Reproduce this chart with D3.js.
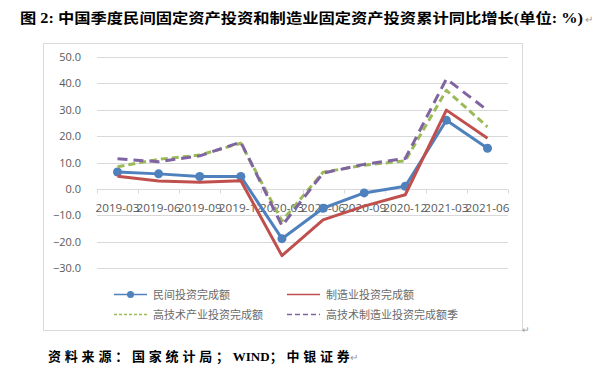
<!DOCTYPE html>
<html>
<head>
<meta charset="utf-8">
<script src="https://cdn.jsdelivr.net/npm/d3@7"></script>
<style>
  body { margin: 0; background: #fff; }
  svg { display: block; }
</style>
</head>
<body>
<div id="chart"></div>
<script>
const categories = ["2019-03", "2019-06", "2019-09", "2019-12", "2020-03", "2020-06", "2020-09", "2020-12", "2021-03", "2021-06"];
const privateInv = [6.4, 5.7, 4.7, 4.7, -18.8, -7.3, -1.5, 1.0, 26.0, 15.4];
const manufInv = [4.8, 3.0, 2.5, 3.1, -25.2, -11.7, -6.5, -2.2, 29.8, 19.2];
const hiTechInv = [8.4, 11.2, 12.8, 17.3, -12.1, 6.3, 9.0, 10.6, 37.3, 23.5];
const hiTechManufInv = [11.4, 10.3, 12.5, 17.7, -13.9, 6.0, 9.3, 11.5, 41.6, 29.7];
const yTicks = [50, 40, 30, 20, 10, 0, -10, -20, -30];
const seriesNames = ["民间投资完成额", "制造业投资完成额", "高技术产业投资完成额", "高技术制造业投资完成额季"];

const W = 597, H = 382;
const svg = d3.select("#chart").append("svg").attr("width", W).attr("height", H);

const serif = "'Liberation Serif', 'Noto Sans CJK SC', serif";
const sans = "'Noto Sans CJK SC', 'Open Sans', sans-serif";

// title
svg.append("text")
  .attr("x", 20).attr("y", 23)
  .attr("font-family", serif).attr("font-weight", "bold").attr("font-size", 14)
  .attr("textLength", 563).attr("lengthAdjust", "spacingAndGlyphs")
  .attr("fill", "#000")
  .text("图 2: 中国季度民间固定资产投资和制造业固定资产投资累计同比增长(单位: %)");
svg.append("text").attr("x", 585).attr("y", 23).attr("font-size", 10).attr("fill", "#999").text("↵");

// chart frame
svg.append("rect").attr("x", 43.5).attr("y", 43.5).attr("width", 479).attr("height", 287)
  .attr("fill", "none").attr("stroke", "#d9d9d9");

const x = d3.scalePoint().domain(categories).range([117.5, 487.5]);
const step = x.step();
const y = d3.scaleLinear().domain([-30, 50]).range([268.3, 56.7]);

// grid
svg.append("g").selectAll("line").data(yTicks).join("line")
  .attr("x1", 97).attr("x2", 508)
  .attr("y1", d => Math.round(y(d)) + 0.5).attr("y2", d => Math.round(y(d)) + 0.5)
  .attr("stroke", "#d9d9d9");

// y labels
svg.append("g").selectAll("text").data(yTicks).join("text")
  .attr("x", 81).attr("y", d => y(d) + 4)
  .attr("text-anchor", "end")
  .attr("font-family", "'Open Sans', sans-serif").attr("font-size", 11).attr("fill", "#595959")
  .text(d => d3.format(".1f")(d));

// x axis at zero
const y0 = Math.round(y(0)) + 0.5;
svg.append("line").attr("x1", 97).attr("x2", 508).attr("y1", y0).attr("y2", y0).attr("stroke", "#d9d9d9");
const bounds = d3.range(categories.length + 1).map(i => x(categories[0]) - step / 2 + i * step);
svg.append("g").selectAll("line").data(bounds).join("line")
  .attr("x1", d => Math.round(d) + 0.5).attr("x2", d => Math.round(d) + 0.5)
  .attr("y1", y0).attr("y2", y0 + 4)
  .attr("stroke", "#d9d9d9");
svg.append("g").selectAll("text").data(categories).join("text")
  .attr("x", d => x(d)).attr("y", 212)
  .attr("text-anchor", "middle")
  .attr("font-family", "'Open Sans', sans-serif").attr("font-size", 11).attr("fill", "#595959")
  .attr("textLength", 44).attr("lengthAdjust", "spacingAndGlyphs")
  .text(d => d);

const line = d3.line().x((d, i) => x(categories[i])).y(d => y(d));

const series = [
  { values: privateInv, color: "#4F81BD", dash: null, marker: true },
  { values: manufInv, color: "#C0504D", dash: null, marker: false },
  { values: hiTechInv, color: "#9BBB59", dash: "7,4", marker: false },
  { values: hiTechManufInv, color: "#8064A2", dash: "10,6", marker: false }
];

series.forEach(s => {
  svg.append("path").datum(s.values)
    .attr("d", line)
    .attr("fill", "none")
    .attr("stroke", s.color)
    .attr("stroke-width", 3)
    .attr("stroke-dasharray", s.dash)
    .attr("stroke-linejoin", "round");
  if (s.marker) {
    svg.append("g").selectAll("circle").data(s.values).join("circle")
      .attr("cx", (d, i) => x(categories[i])).attr("cy", d => y(d))
      .attr("r", 4.5).attr("fill", s.color);
  }
});

// legend
const legendPos = [[114, 294], [287, 294], [114, 314], [287, 314]];
const legendDash = [null, null, "3,2", "5,3"];
seriesNames.forEach((name, i) => {
  const [lx, ly] = legendPos[i];
  const g = svg.append("g").attr("transform", `translate(${lx},${ly})`);
  g.append("line").attr("x1", 0).attr("x2", 33).attr("y1", 0.5).attr("y2", 0.5)
    .attr("stroke", series[i].color).attr("stroke-width", 1.3)
    .attr("stroke-dasharray", legendDash[i]);
  if (series[i].marker) g.append("circle").attr("cx", 16.5).attr("cy", 0.5).attr("r", 3.5).attr("fill", series[i].color);
  g.append("text").attr("x", 39).attr("y", 4.5)
    .attr("font-family", sans).attr("font-size", 11).attr("fill", "#6b6b6b")
    .text(name);
});
svg.append("text").attr("x", 522).attr("y", 333).attr("font-size", 9).attr("fill", "#999").text("↵");

// source
const src = svg.append("text")
  .attr("x", 48).attr("y", 361)
  .attr("font-family", serif).attr("font-weight", "bold").attr("font-size", 13)
  .attr("fill", "#000");
src.append("tspan").attr("letter-spacing", 3.8).text("资料来源：国家统计局；");
src.append("tspan").attr("letter-spacing", 0).text("WIND");
src.append("tspan").attr("letter-spacing", 3.8).text("；中银证");
src.append("tspan").attr("letter-spacing", 0).text("券");
src.append("tspan").attr("font-weight", "normal").attr("font-size", 10).attr("fill", "#999").text("↵");
</script>
</body>
</html>
